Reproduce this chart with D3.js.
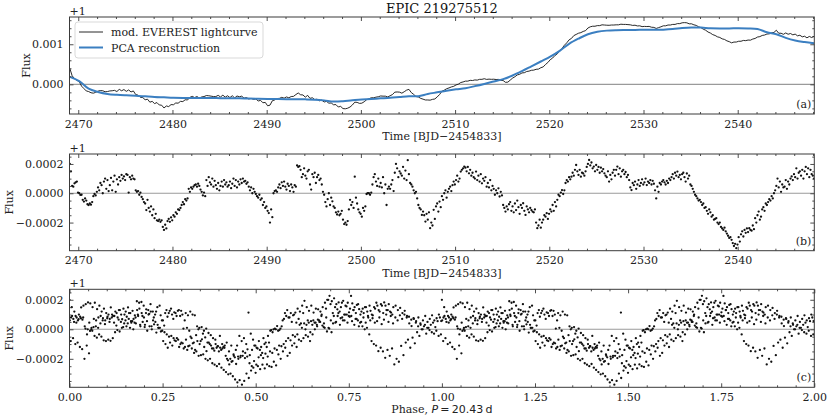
<!DOCTYPE html>
<html><head><meta charset="utf-8">
<script src="https://cdn.jsdelivr.net/npm/d3@7/dist/d3.min.js"></script>
<style>
body{margin:0;background:#fff;}
svg text{font-family:"DejaVu Serif",serif;}
</style></head>
<body><svg id="c" width="831" height="420"></svg>
<script>
// ---------------- DATA (flux offsets in ppm, relative to +1) ----------------
const title = "EPIC 219275512";
const T_START = 2469.1;          // first cadence time, BJD-2454833
const STEP_A = 0.25;             // cadence of lightcurve samples (days)
const STEP_B = 0.125;            // cadence of residual samples (days)
const STEP_PCA = 1.0;            // cadence of PCA samples (days)
const PERIOD = 20.43;            // days

// mod. EVEREST lightcurve (ppm)
const everest = [
400,215,140,100,70,-45,-105,-165,-180,-210,
-220,-200,-170,-155,-160,-185,-180,-165,-160,-150,
-180,-125,-160,-130,-175,-140,-190,-165,-255,-270,
-325,-330,-385,-370,-445,-425,-480,-455,-515,-520,
-590,-540,-555,-505,-510,-465,-470,-425,-430,-385,
-390,-325,-300,-330,-305,-340,-315,-305,-280,-285,
-295,-305,-305,-275,-315,-270,-320,-285,-330,-285,
-340,-290,-310,-295,-345,-330,-365,-350,-375,-365,
-415,-400,-460,-450,-535,-520,-410,-390,-355,-350,
-325,-345,-315,-335,-305,-300,-255,-215,-260,-265,
-320,-275,-350,-335,-380,-370,-410,-395,-440,-425,
-470,-465,-510,-505,-565,-550,-605,-610,-595,-565,
-515,-445,-450,-475,-470,-435,-385,-360,-335,-335,
-320,-310,-290,-295,-295,-315,-285,-255,-195,-190,
-195,-220,-185,-145,-125,-205,-250,-305,-315,-350,
-370,-390,-390,-395,-375,-365,-315,-255,-175,-145,
-110,-90,-65,-50,-15,5,45,60,80,80,
100,95,110,105,125,125,140,123,130,125,
128,120,123,100,95,50,55,105,155,190,
235,250,285,290,320,330,350,355,375,380,
415,435,495,545,615,655,720,760,835,895,
975,1035,1110,1145,1215,1245,1275,1290,1320,1340,
1405,1435,1450,1450,1465,1465,1485,1480,1475,1473,
1480,1480,1485,1485,1500,1495,1495,1490,1485,1470,
1475,1457,1460,1440,1445,1442,1445,1425,1420,1395,
1415,1435,1460,1460,1480,1480,1495,1495,1515,1515,
1535,1540,1535,1510,1510,1485,1470,1435,1415,1375,
1350,1305,1280,1240,1220,1185,1170,1135,1120,1085,
1065,1035,1055,1055,1075,1075,1095,1090,1105,1102,
1130,1145,1180,1190,1220,1230,1255,1260,1285,1295,
1350,1275,1275,1248,1282,1250,1268,1235,1253,1210,
1225,1185,1200,1160,1195,1168,1200
];

// PCA reconstruction (ppm), one per day
const pca = [
185,80,-110,-190,-240,-262,-275,-285,-300,-315,
-325,-335,-340,-342,-342,-343,-345,-348,-350,-355,
-360,-365,-368,-370,-372,-375,-382,-400,-430,-420,
-395,-380,-365,-350,-335,-315,-295,-295,-240,-200,
-160,-125,-95,-45,10,70,130,220,330,450,
570,690,835,1010,1140,1250,1310,1340,1352,1356,
1358,1360,1362,1365,1378,1405,1420,1415,1400,1395,
1395,1398,1395,1380,1300,1250,1160,1095,1055,1025
];

// Residual (lightcurve - PCA), ppm, 8 samples per day from 2469.1
const resid = [
200,150,50,45,68,75,80,5,
0,-11,-10,-45,-57,-35,-50,-75,
-80,-70,-78,-60,-20,-5,-15,10,
40,20,70,55,0,80,100,30,
90,15,55,105,20,80,120,10,
95,60,110,85,125,100,115,90,
130,125,5,110,95,120,100,95,
20,10,15,-10,5,-25,-40,-60,
-70,-115,-45,-100,-125,-90,-150,-110,
-170,-140,-185,-190,-180,-195,-185,-230,
-250,-215,-240,-190,-175,-195,-165,-185,
-150,-160,-130,-140,-110,-115,-100,-80,
-60,-75,-40,-50,-35,30,10,40,
30,45,55,60,45,65,50,25,
10,-15,5,-20,90,50,110,75,
60,100,45,85,55,30,70,20,
50,80,45,90,60,75,45,55,
80,35,65,100,50,90,40,80,
60,95,70,100,80,85,65,75,
45,20,40,0,30,10,-5,-20,
-30,-10,-45,-35,-80,-60,-100,-90,
-120,-135,-200,-110,-163,0,15,20,
10,40,60,35,75,50,80,45,
25,65,50,15,60,40,10,55,
45,190,180,185,160,110,130,170,
120,100,150,160,60,25,130,110,
140,70,110,125,90,100,60,10,
-10,-60,-90,-40,0,-80,-30,-55,
-90,-100,-130,-145,-125,-150,-140,-120,
-180,-210,-200,-215,-190,-110,-45,-80,
-60,-100,113,-30,-70,-110,-130,-140,
-160,-100,-120,-90,-5,0,0,-10,
5,60,110,130,80,50,100,45,
70,40,110,0,60,-80,30,45,
30,60,90,15,140,200,170,110,
150,135,120,180,100,155,90,226,
130,70,60,45,20,0,10,-35,
-80,-100,-110,-148,-125,-150,-193,-140,
-180,-130,-238,-200,-220,-113,-175,-90,
-70,-125,-57,-95,-20,-45,0,20,
-30,10,30,45,15,55,80,60,
90,120,80,100,148,160,170,182,
175,150,180,136,160,120,140,110,
100,148,90,120,80,130,68,100,
85,110,45,70,40,90,20,50,
30,-10,20,0,34,-22,10,-15,
-80,-100,-125,-90,-110,-75,-60,-120,
-90,-130,-70,-115,-50,-95,-140,-80,
-100,-68,-120,-148,-90,-110,-130,-100,
-115,-125,-130,-110,-200,-238,-220,-180,
-235,-200,-180,-150,-160,-136,-175,-140,
-110,-125,-80,-120,-60,-90,-45,-10,
-20,5,22,-5,20,70,90,80,
110,95,113,140,120,160,193,150,
125,160,113,140,135,120,150,180,
200,227,190,210,170,182,150,193,
160,180,140,175,150,165,136,120,
110,150,80,125,95,140,160,120,
160,182,130,170,113,150,160,130,
145,110,125,90,40,22,70,55,
80,30,60,90,50,70,95,60,
75,100,56,80,70,90,60,85,
65,20,-35,45,10,70,60,80,
90,75,60,85,70,100,90,110,
130,100,140,120,148,110,125,95,
130,140,110,80,135,100,120,60,
50,30,10,-10,-20,-35,-50,-45,
-60,-80,-70,-100,-95,-120,-140,-110,
-130,-160,-150,-180,-175,-170,-200,-210,
-200,-230,-240,-250,-235,-260,-275,-290,
-305,-300,-318,-340,-360,-345,-375,-350,
-300,-330,-280,-260,-295,-250,-270,-240,
-265,-238,-250,-255,-220,-245,-170,-200,
-150,-125,-180,-160,-110,-95,-120,-70,
-80,-60,-40,-50,-20,-35,0,20,
50,100,40,80,10,60,40,45,
90,30,80,60,100,115,90,130,
110,170,100,140,150,120,160,100,
150,180,130,170,110,160,130,120,
100
];

const timeTicks = [2470,2480,2490,2500,2510,2520,2530,2540];
const phaseTicks = [0,0.25,0.5,0.75,1.0,1.25,1.5,1.75,2.0];
const fluxTicksA = [0,1000];
const fluxTicksB = [-200,0,200];
const seriesNames = ["mod. EVEREST lightcurve","PCA reconstruction"];
const panelLabels = ["(a)","(b)","(c)"];

// ---------------- DRAWING ----------------
const svg = d3.select("#c");
svg.append("rect").attr("width",831).attr("height",420).attr("fill","#fff");
const L = 69.5, R = 814.3;
const AX = "#3a3a3a";
const blue = "#3b7fc1";

const tA = everest.map((v,i)=>({t:T_START+i*STEP_A, v}));
const tP = pca.map((v,i)=>({t:T_START+i*STEP_PCA, v}));
const tB = resid.map((v,i)=>({t:T_START+i*STEP_B, v}));
const folded = [];
tB.forEach(d=>{
  const ph = (((d.t - T_START)/PERIOD)%1+1)%1;
  folded.push({p:ph, v:d.v});
  folded.push({p:ph+1, v:d.v});
});

function panel(cfg){
  const g = svg.append("g");
  const x = d3.scaleLinear().domain(cfg.xd).range([L,R]);
  const y = d3.scaleLinear().domain(cfg.yd).range([cfg.bot,cfg.top]);
  const id = "clip"+cfg.name;
  svg.append("clipPath").attr("id",id).append("rect")
    .attr("x",L).attr("y",cfg.top).attr("width",R-L).attr("height",cfg.bot-cfg.top);
  g.append("line").attr("x1",L).attr("x2",R).attr("y1",y(0)).attr("y2",y(0))
    .attr("stroke","#9a9a9a").attr("stroke-width",1.1);
  const plot = g.append("g").attr("clip-path",`url(#${id})`);
  cfg.draw(plot,x,y);
  const mk = (axis, tr, vals, size, fmt, pad) => {
    const a = axis.tickValues(vals).tickSize(size).tickPadding(pad||4);
    a.tickFormat(fmt || (()=>""));
    const gg = g.append("g").attr("transform",tr).call(a);
    gg.select(".domain").remove();
    gg.selectAll("line").attr("stroke",AX).attr("stroke-width",0.9);
    gg.selectAll("text").attr("font-family","DejaVu Serif").attr("font-size",11).attr("fill","#222");
    return gg;
  };
  mk(d3.axisBottom(x), `translate(0,${cfg.bot})`, cfg.xMajor, -4, cfg.xFmt, 6);
  mk(d3.axisBottom(x), `translate(0,${cfg.bot})`, cfg.xMinor, -2);
  mk(d3.axisTop(x), `translate(0,${cfg.top})`, cfg.xMajor, -4);
  mk(d3.axisTop(x), `translate(0,${cfg.top})`, cfg.xMinor, -2);
  mk(d3.axisLeft(y), `translate(${L},0)`, cfg.yMajor, -4, cfg.yFmt, 6);
  mk(d3.axisLeft(y), `translate(${L},0)`, cfg.yMinor, -2);
  mk(d3.axisRight(y), `translate(${R},0)`, cfg.yMajor, -4);
  mk(d3.axisRight(y), `translate(${R},0)`, cfg.yMinor, -2);
  g.append("rect").attr("x",L).attr("y",cfg.top).attr("width",R-L).attr("height",cfg.bot-cfg.top)
    .attr("fill","none").attr("stroke",AX).attr("stroke-width",1);
  g.append("text").attr("x",L).attr("y",cfg.top-2).attr("font-size",11).attr("fill","#222").text("+1");
  g.append("text").attr("transform",`translate(${cfg.fluxX},${(cfg.top+cfg.bot)/2}) rotate(-90)`)
    .attr("text-anchor","middle").attr("font-size",11).attr("fill","#222").text("Flux");
  g.append("text").attr("x",R-3).attr("y",cfg.bot-6).attr("text-anchor","end")
    .attr("font-size",11).attr("fill","#222").text(cfg.label);
  return {x,y,g};
}

const range = (a,b,s)=>d3.range(Math.round((b-a)/s)+1).map(i=>+(a+i*s).toFixed(6));
const timeMinor = range(2470,2548,2).filter(v=>!timeTicks.includes(v));
const fmtA = d => (d/1e6).toFixed(3);
const fmtB = d => (d/1e6).toFixed(4).replace("-","\u2212");

panel({name:"a", xd:[2469.07,2548.13], yd:[-740,1680], top:17, bot:114, fluxX:30,
  xMajor:timeTicks, xMinor:timeMinor, xFmt:d=>d,
  yMajor:fluxTicksA, yMinor:range(-600,1600,200).filter(v=>!fluxTicksA.includes(v)), yFmt:fmtA,
  label:panelLabels[0],
  draw:(p,x,y)=>{
    p.append("path").datum(tA).attr("fill","none").attr("stroke","#111").attr("stroke-width",0.9)
      .attr("d",d3.line().x(d=>x(d.t)).y(d=>y(d.v)));
    p.append("path").datum(tP).attr("fill","none").attr("stroke",blue).attr("stroke-width",2)
      .attr("d",d3.line().curve(d3.curveCatmullRom).x(d=>x(d.t)).y(d=>y(d.v)));
  }});

panel({name:"b", xd:[2469.07,2548.13], yd:[-392,268], top:154, bot:250.7, fluxX:13,
  xMajor:timeTicks, xMinor:timeMinor, xFmt:d=>d,
  yMajor:fluxTicksB, yMinor:range(-350,250,50).filter(v=>!fluxTicksB.includes(v)), yFmt:fmtB,
  label:panelLabels[1],
  draw:(p,x,y)=>{
    p.selectAll("circle").data(tB).join("circle").attr("cx",d=>x(d.t)).attr("cy",d=>y(d.v))
      .attr("r",1.15).attr("fill","#111");
  }});

panel({name:"c", xd:[0,2], yd:[-393,271], top:289.3, bot:387.3, fluxX:13,
  xMajor:phaseTicks, xMinor:range(0,2,0.05).filter(v=>!phaseTicks.some(t=>Math.abs(t-v)<1e-6)), xFmt:d=>d.toFixed(2),
  yMajor:fluxTicksB, yMinor:range(-350,250,50).filter(v=>!fluxTicksB.includes(v)), yFmt:fmtB,
  label:panelLabels[2],
  draw:(p,x,y)=>{
    p.selectAll("circle").data(folded).join("circle").attr("cx",d=>x(d.p)).attr("cy",d=>y(d.v))
      .attr("r",1.15).attr("fill","#111");
  }});

const cx = (L+R)/2;
svg.append("text").attr("x",cx).attr("y",13).attr("text-anchor","middle").attr("font-size",13).attr("fill","#111").text(title);
svg.append("text").attr("x",cx).attr("y",140).attr("text-anchor","middle").attr("font-size",11).attr("fill","#222").text("Time [BJD\u22122454833]");
svg.append("text").attr("x",cx).attr("y",277).attr("text-anchor","middle").attr("font-size",11).attr("fill","#222").text("Time [BJD\u22122454833]");
const ph = svg.append("text").attr("x",cx).attr("y",413).attr("text-anchor","middle").attr("font-size",11).attr("fill","#222");
ph.append("tspan").text("Phase, ");
ph.append("tspan").attr("font-family","DejaVu Sans").attr("font-style","italic").text("P");
ph.append("tspan").attr("font-family","DejaVu Sans").text("\u2009=\u200920.43\u2009d");

const lg = svg.append("g");
lg.append("rect").attr("x",75).attr("y",22).attr("width",188).attr("height",36).attr("rx",3)
  .attr("fill","#fff").attr("fill-opacity",0.85).attr("stroke","#cfcfcf").attr("stroke-width",0.8);
[["#111",0.9],[blue,2]].forEach((s,i)=>{
  const yy = 32 + i*15.5;
  lg.append("line").attr("x1",79).attr("x2",103).attr("y1",yy).attr("y2",yy).attr("stroke",s[0]).attr("stroke-width",s[1]);
  lg.append("text").attr("x",111).attr("y",yy+4).attr("font-size",11).attr("fill","#222").text(seriesNames[i]);
});
</script></body></html>
